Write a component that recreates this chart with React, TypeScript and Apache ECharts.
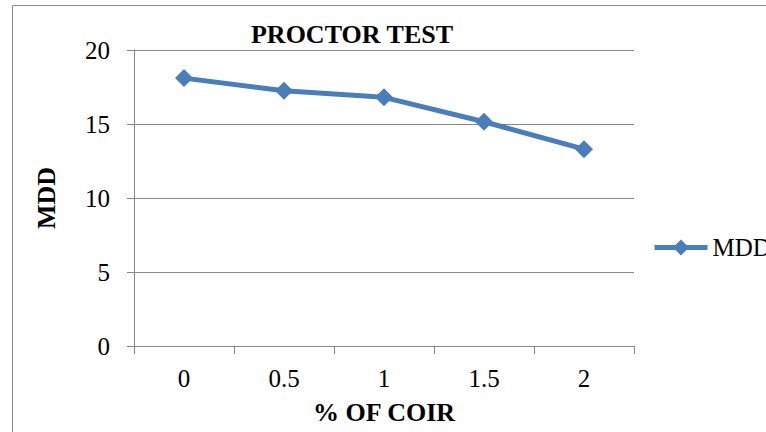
import React, { useEffect, useRef } from "react";
import * as echarts from "echarts";

const categories: string[] = ["0", "0.5", "1", "1.5", "2"];
const mddValues: number[] = [18.1, 17.25, 16.8, 15.15, 13.3];
const yTicks = { min: 0, max: 20, interval: 5 };

const FONT = "Liberation Serif, Times New Roman, Times, serif";
const GRAY = "#878787";
const BLUE = "#4a7ebb";

export default function App() {
  const ref = useRef<HTMLDivElement>(null);
  useEffect(() => {
    if (!ref.current) return;
    const chart = echarts.init(ref.current, undefined, { renderer: "svg" });
    chart.setOption({
      animation: false,
      backgroundColor: "#ffffff",
      textStyle: { fontFamily: FONT },
      title: {
        text: "PROCTOR TEST",
        left: 347,
        top: 16,
        textAlign: "center",
        textStyle: { fontFamily: FONT, fontSize: 26, fontWeight: "bold", color: "#000" },
      },
      graphic: [
        {
          type: "rect",
          shape: { x: 12.5, y: 5.5, width: 800, height: 500 },
          style: { fill: "none", stroke: "#8c8c8c", lineWidth: 1 },
          silent: true,
        },
      ],
      legend: {
        data: ["MDD"],
        left: 652,
        top: 235,
        padding: 0,
        itemWidth: 53,
        itemHeight: 20,
        lineStyle: { width: 5, color: BLUE },
        textStyle: { fontFamily: FONT, fontSize: 25, color: "#000" },
      },
      grid: { left: 134, right: 132, top: 50, bottom: 86, containLabel: false },
      xAxis: {
        type: "category",
        data: categories,
        boundaryGap: true,
        name: "% OF COIR",
        nameLocation: "middle",
        nameGap: 53,
        nameTextStyle: { fontFamily: FONT, fontSize: 26, fontWeight: "bold", color: "#000" },
        axisLine: { show: true, lineStyle: { color: GRAY, width: 1 } },
        axisTick: { show: true, length: 8, alignWithLabel: false, lineStyle: { color: GRAY } },
        axisLabel: { fontFamily: FONT, fontSize: 25, color: "#000", margin: 20 },
        splitLine: { show: false },
      },
      yAxis: {
        type: "value",
        min: yTicks.min,
        max: yTicks.max,
        interval: yTicks.interval,
        name: "MDD",
        nameLocation: "middle",
        nameGap: 75,
        nameTextStyle: { fontFamily: FONT, fontSize: 26, fontWeight: "bold", color: "#000" },
        axisLine: { show: true, lineStyle: { color: GRAY, width: 1 } },
        axisTick: { show: true, length: 7, inside: false, lineStyle: { color: GRAY } },
        axisLabel: { fontFamily: FONT, fontSize: 25, color: "#000", margin: 24 },
        splitLine: { show: true, lineStyle: { color: GRAY, width: 1 } },
      },
      series: [
        {
          name: "MDD",
          type: "line",
          data: mddValues,
          symbol: "diamond",
          symbolSize: 18,
          lineStyle: { color: BLUE, width: 5 },
          itemStyle: { color: BLUE },
        },
      ],
    });
    return () => chart.dispose();
  }, []);
  return (
    <div
      ref={ref}
      style={{ position: "fixed", left: 0, top: 0, width: 766, height: 432 }}
    />
  );
}
